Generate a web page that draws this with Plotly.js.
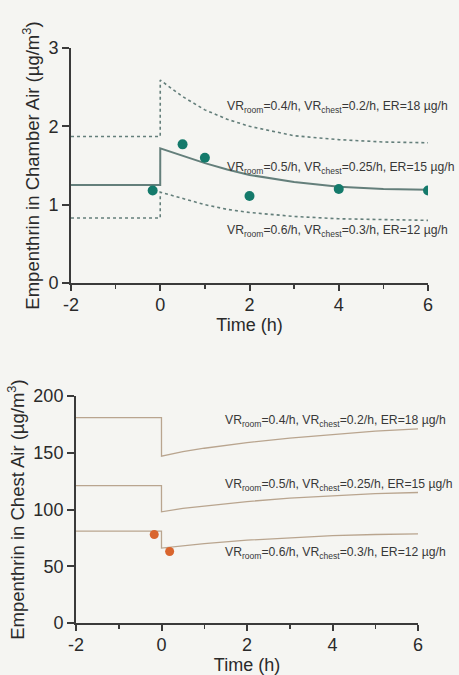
<!DOCTYPE html>
<html>
<head>
<meta charset="utf-8">
<script src="https://cdn.plot.ly/plotly-3.0.1.min.js"></script>
<style>html,body{margin:0;padding:0;background:#f5f5f2;}#chart{width:459px;height:675px;}</style>
</head>
<body>
<div id="chart"></div>
<script>
// ---- Chamber air (top panel) ----
const chamberTime = [-2, -0.001, 0, 0.5, 1, 1.5, 2, 3, 4, 5, 6];
const chamberHigh = [1.87, 1.87, 2.59, 2.38, 2.21, 2.09, 2.0, 1.88, 1.83, 1.80, 1.79];
const chamberMid  = [1.25, 1.25, 1.72, 1.62, 1.53, 1.45, 1.38, 1.29, 1.23, 1.20, 1.19];
const chamberLow  = [0.83, 0.83, 1.16, 1.08, 1.00, 0.94, 0.90, 0.85, 0.82, 0.81, 0.80];
const chamberObsTime = [-0.17, 0.5, 1, 2, 4, 6];
const chamberObs     = [1.18, 1.77, 1.60, 1.11, 1.20, 1.18];

// ---- Chest air (bottom panel) ----
const chestTime = [-2, -0.001, 0, 0.5, 1, 2, 3, 4, 5, 6];
const chestHigh = [181, 181, 147, 151, 154, 159, 163, 166, 169, 171];
const chestMid  = [121, 121, 98, 101, 103, 107, 110, 112, 114, 115];
const chestLow  = [81, 81, 66, 68, 70, 73, 75, 77, 78, 78.5];
const chestObsTime = [-0.17, 0.19];
const chestObs     = [78, 63];

const labels = [
  'VR<sub>room</sub>=0.4/h, VR<sub>chest</sub>=0.2/h, ER=18 µg/h',
  'VR<sub>room</sub>=0.5/h, VR<sub>chest</sub>=0.25/h, ER=15 µg/h',
  'VR<sub>room</sub>=0.6/h, VR<sub>chest</sub>=0.3/h, ER=12 µg/h'
];
const xTicks = [-2, 0, 2, 4, 6];
const xTickText = ['-2', '0', '2', '4', '6'];
const yTicksTop = [0, 1, 2, 3];
const yTicksBottom = [0, 50, 100, 150, 200];

const topLine = '#647f7b';
const teal = '#147a6b';
const chestLine = '#b9a58f';
const orange = '#d9652e';

const traces = [
  {x: chamberTime, y: chamberHigh, mode: 'lines', line: {color: topLine, width: 1.6, dash: 'dot'}, xaxis: 'x', yaxis: 'y'},
  {x: chamberTime, y: chamberMid, mode: 'lines', line: {color: topLine, width: 2}, xaxis: 'x', yaxis: 'y'},
  {x: chamberTime, y: chamberLow, mode: 'lines', line: {color: topLine, width: 1.6, dash: 'dot'}, xaxis: 'x', yaxis: 'y'},
  {x: chamberObsTime, y: chamberObs, mode: 'markers', marker: {color: teal, size: 10}, xaxis: 'x', yaxis: 'y'},
  {x: chestTime, y: chestHigh, mode: 'lines', line: {color: chestLine, width: 1.3}, xaxis: 'x2', yaxis: 'y2'},
  {x: chestTime, y: chestMid, mode: 'lines', line: {color: chestLine, width: 1.3}, xaxis: 'x2', yaxis: 'y2'},
  {x: chestTime, y: chestLow, mode: 'lines', line: {color: chestLine, width: 1.3}, xaxis: 'x2', yaxis: 'y2'},
  {x: chestObsTime, y: chestObs, mode: 'markers', marker: {color: orange, size: 9}, xaxis: 'x2', yaxis: 'y2'}
];

const tickFont = {family: 'Liberation Sans, Arial, sans-serif', size: 18, color: '#2a2a2a'};
const titleFont = {family: 'Liberation Sans, Arial, sans-serif', size: 18.5, color: '#2a2a2a'};
const xTitleFont = {family: 'Liberation Sans, Arial, sans-serif', size: 18, color: '#2a2a2a'};
const annFont = {family: 'Liberation Sans, Arial, sans-serif', size: 12.2, color: '#383838'};

function xAxis(domain, anchor) {
  return {
    domain: domain, anchor: anchor, range: [-2, 6], tickvals: xTicks, ticktext: xTickText,
    showgrid: false, zeroline: false, showline: true, linecolor: '#3a3a3a', linewidth: 2,
    ticks: 'outside', ticklen: 6, tickwidth: 2, tickcolor: '#3a3a3a', ticklabelstandoff: -2,
    minor: {dtick: 1, tick0: -2, ticks: 'outside', ticklen: 4, tickwidth: 1.5, tickcolor: '#3a3a3a', showgrid: false},
    tickfont: tickFont, title: {text: 'Time (h)', font: xTitleFont, standoff: 5}
  };
}
function yAxis(domain, anchor, range, vals, title) {
  return {
    domain: domain, anchor: anchor, range: range, tickvals: vals,
    showgrid: false, zeroline: false, showline: true, linecolor: '#3a3a3a', linewidth: 2,
    ticks: 'outside', ticklen: 7, tickwidth: 2, tickcolor: '#3a3a3a',
    tickfont: tickFont, title: {text: title, font: titleFont, standoff: 4}
  };
}

const annTop = [2.25, 1.47, 0.66];
const annBottom = [178, 122, 62];
const annotations = [];
labels.forEach((t, i) => {
  annotations.push({x: 1.45, y: annTop[i], xref: 'x', yref: 'y', text: t, showarrow: false, xanchor: 'left', yanchor: 'middle', font: annFont});
  annotations.push({x: 1.44, y: annBottom[i], xref: 'x2', yref: 'y2', text: t, showarrow: false, xanchor: 'left', yanchor: 'middle', font: annFont});
});

const layout = {
  width: 459, height: 675,
  margin: {l: 0, r: 0, t: 0, b: 0},
  paper_bgcolor: '#f5f5f2', plot_bgcolor: '#f5f5f2',
  showlegend: false,
  xaxis: xAxis([0.1547, 0.9325], 'y'),
  yaxis: yAxis([0.5807, 0.9289], 'x', [0, 3], yTicksTop, 'Empenthrin in Chamber Air (µg/m<sup>3</sup>)'),
  xaxis2: xAxis([0.1656, 0.9107], 'y2'),
  yaxis2: yAxis([0.077, 0.4133], 'x2', [0, 200], yTicksBottom, 'Empenthrin in Chest Air (µg/m<sup>3</sup>)'),
  annotations: annotations
};

Plotly.newPlot('chart', traces, layout, {staticPlot: true, displayModeBar: false});
</script>
</body>
</html>
